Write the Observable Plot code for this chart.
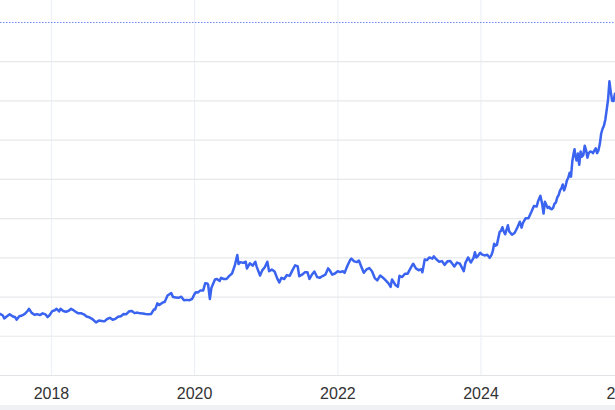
<!DOCTYPE html>
<html>
<head>
<meta charset="utf-8">
<script src="https://cdn.jsdelivr.net/npm/d3@7"></script>
<script src="https://cdn.jsdelivr.net/npm/@observablehq/plot@0.6"></script>
<style>
  html, body { margin: 0; padding: 0; background: #fff; overflow: hidden; }
  #chart { width: 615px; height: 405px; }
  #band { width: 615px; height: 5px; background: #f0f1f4; }
</style>
</head>
<body>
<div id="chart"></div>
<div id="band"></div>
<script>
// Weekly-ish closing prices (USD)
const dates = [
  "2017-03-31","2017-04-14","2017-04-28","2017-05-05","2017-05-19","2017-06-02","2017-06-16","2017-06-30","2017-07-07","2017-07-21","2017-08-04","2017-08-18","2017-09-01","2017-09-08","2017-09-22","2017-10-06","2017-10-20","2017-11-03","2017-11-17","2017-12-01","2017-12-12","2017-12-22",
  "2018-01-05","2018-01-19","2018-01-26","2018-02-02","2018-02-09","2018-02-16","2018-03-02","2018-03-16","2018-03-30","2018-04-11","2018-04-20","2018-05-04","2018-05-18","2018-06-01","2018-06-15","2018-06-29","2018-07-13","2018-07-27","2018-08-16","2018-08-31","2018-09-14","2018-09-28","2018-10-12","2018-10-26","2018-11-09","2018-11-23","2018-12-07","2018-12-21",
  "2019-01-04","2019-01-18","2019-02-01","2019-02-15","2019-03-01","2019-03-15","2019-03-29","2019-04-12","2019-04-26","2019-05-10","2019-05-24","2019-06-07","2019-06-14","2019-06-25","2019-07-05","2019-07-19","2019-08-02","2019-08-16","2019-09-04","2019-09-13","2019-09-27","2019-10-11","2019-10-25","2019-11-08","2019-11-22","2019-12-06","2019-12-20",
  "2020-01-03","2020-01-08","2020-01-17","2020-01-31","2020-02-14","2020-02-24","2020-03-06","2020-03-10","2020-03-19","2020-03-27","2020-04-14","2020-04-24","2020-05-08","2020-05-15","2020-05-29","2020-06-12","2020-06-26","2020-07-10","2020-07-24","2020-07-31","2020-08-06","2020-08-12","2020-08-21","2020-09-04","2020-09-18","2020-09-24","2020-10-09","2020-10-23","2020-11-06","2020-11-13","2020-11-30","2020-12-11","2020-12-24",
  "2021-01-06","2021-01-15","2021-01-29","2021-02-12","2021-02-26","2021-03-08","2021-03-19","2021-04-02","2021-04-16","2021-04-30","2021-05-14","2021-05-28","2021-06-10","2021-06-18","2021-07-02","2021-07-16","2021-07-30","2021-08-09","2021-08-20","2021-09-03","2021-09-17","2021-09-30","2021-10-15","2021-10-29","2021-11-12","2021-11-19","2021-12-03","2021-12-17","2021-12-31",
  "2022-01-14","2022-01-26","2022-02-04","2022-02-18","2022-03-04","2022-03-11","2022-03-25","2022-04-08","2022-04-18","2022-04-29","2022-05-13","2022-05-27","2022-06-10","2022-06-24","2022-07-08","2022-07-21","2022-08-05","2022-08-19","2022-09-02","2022-09-16","2022-09-27","2022-10-04","2022-10-21","2022-11-03","2022-11-11","2022-11-25","2022-12-09","2022-12-23",
  "2023-01-06","2023-01-20","2023-02-03","2023-02-17","2023-03-03","2023-03-08","2023-03-20","2023-03-31","2023-04-13","2023-04-28","2023-05-05","2023-05-19","2023-06-02","2023-06-16","2023-06-29","2023-07-14","2023-07-28","2023-08-18","2023-09-01","2023-09-15","2023-10-05","2023-10-13","2023-10-27","2023-11-10","2023-11-24","2023-12-01","2023-12-08","2023-12-15","2023-12-28",
  "2024-01-05","2024-01-19","2024-02-02","2024-02-14","2024-02-23","2024-03-01","2024-03-08","2024-03-15","2024-03-22","2024-04-05","2024-04-12","2024-04-19","2024-04-26","2024-05-03","2024-05-17","2024-05-24","2024-06-07","2024-06-21","2024-07-05","2024-07-17","2024-07-26","2024-08-02","2024-08-16","2024-08-30","2024-09-13","2024-09-27","2024-10-11","2024-10-18","2024-10-30","2024-11-08","2024-11-15","2024-11-22","2024-12-06","2024-12-13","2024-12-20","2024-12-27",
  "2025-01-03","2025-01-10","2025-01-17","2025-01-24","2025-01-31","2025-02-07","2025-02-14","2025-02-21","2025-02-28","2025-03-07","2025-03-14","2025-03-21","2025-03-28","2025-04-04","2025-04-11","2025-04-17","2025-04-22","2025-04-25","2025-05-02","2025-05-09","2025-05-16","2025-05-23","2025-05-30","2025-06-06","2025-06-13","2025-06-20","2025-06-27","2025-07-03","2025-07-11","2025-07-18","2025-07-25","2025-08-01","2025-08-08","2025-08-15","2025-08-22","2025-08-29","2025-09-05","2025-09-12","2025-09-19","2025-09-26","2025-10-03","2025-10-10","2025-10-17","2025-10-24","2025-10-31","2025-11-07","2025-11-14","2025-11-20"
];
const prices = [
  1250,1285,1265,1228,1255,1280,1255,1242,1212,1255,1265,1285,1322,1350,1298,1275,1282,1270,1292,1280,1245,1268,
  1320,1332,1350,1335,1316,1350,1322,1313,1325,1350,1337,1313,1292,1293,1280,1252,1242,1223,1177,1200,1195,1190,1220,1235,1210,1222,1248,1256,
  1285,1282,1318,1322,1295,1302,1292,1290,1285,1282,1284,1340,1342,1420,1398,1425,1440,1520,1550,1500,1495,1490,1505,1460,1464,1460,1478,
  1550,1560,1558,1585,1585,1675,1672,1660,1475,1620,1725,1730,1705,1745,1730,1730,1770,1800,1900,1975,2035,1920,1945,1935,1950,1865,1930,1900,1950,1885,1775,1840,1880,
  1950,1830,1850,1825,1735,1685,1745,1730,1780,1770,1840,1905,1890,1765,1785,1815,1815,1730,1780,1825,1755,1745,1768,1785,1865,1845,1785,1800,1828,
  1818,1830,1808,1895,1970,1990,1955,1945,1965,1895,1810,1852,1870,1828,1742,1712,1775,1747,1712,1675,1630,1725,1655,1630,1770,1755,1798,1798,
  1865,1925,1865,1842,1855,1815,1980,1970,2005,1990,2018,1978,1950,1958,1910,1955,1960,1890,1940,1925,1830,1932,2005,1940,2000,2070,2005,2020,2065,
  2045,2030,2038,2000,2035,2085,2180,2155,2165,2330,2345,2390,2335,2300,2415,2335,2295,2320,2390,2460,2385,2445,2505,2505,2580,2660,2655,2720,2790,2685,2565,2715,2635,2650,2625,2620,
  2640,2690,2705,2770,2800,2860,2885,2935,2860,2910,2985,3020,3085,3035,3235,3325,3385,3320,3240,3330,3185,3355,3290,3310,3430,3370,3275,3335,3355,3350,3335,3365,3395,3335,3370,3450,3585,3645,3685,3760,3885,4015,4250,4110,4000,4000,4090,4080
];
const xTickYears = ["2018-01-01","2020-01-01","2022-01-01","2024-01-01","2026-01-01"];
const yGridValues = [1000,1500,2000,2500,3000,3500,4000,4500];
const baseValue = [500];
const refValue = [5000];

const data = dates.map((d, i) => ({date: new Date(d), price: prices[i]}));
const xTicks = xTickYears.map(d => new Date(d));

const chart = Plot.plot({
  width: 615,
  height: 405,
  marginLeft: 0,
  marginRight: 0,
  marginTop: 0,
  marginBottom: 30,
  style: {fontFamily: "'Liberation Sans', Arial, Helvetica, sans-serif", background: "#fff"},
  x: {type: "utc", domain: [new Date("2017-04-16"), new Date("2025-11-17")]},
  y: {domain: [500, 5280], axis: null},
  marks: [
    Plot.ruleX(xTicks, {stroke: "#edf1f7", strokeWidth: 1.2}),
    Plot.ruleY(yGridValues, {stroke: "#e7e8eb", strokeWidth: 1.2}),
    Plot.ruleY(baseValue, {stroke: "#e2e3e6", strokeWidth: 1.2}),
    Plot.ruleY(refValue, {stroke: "#6a88f5", strokeWidth: 1, strokeDasharray: "1.5,1.5"}),
    Plot.line(data, {x: "date", y: "price", stroke: "#3a63f0", strokeWidth: 2.5, strokeLinejoin: "round", clip: true}),
    Plot.axisX({ticks: xTicks, tickFormat: "%Y", tickSize: 0, tickPadding: 12, fontSize: 16, fill: "#333", label: null})
  ]
});
document.getElementById("chart").appendChild(chart);
</script>
</body>
</html>
